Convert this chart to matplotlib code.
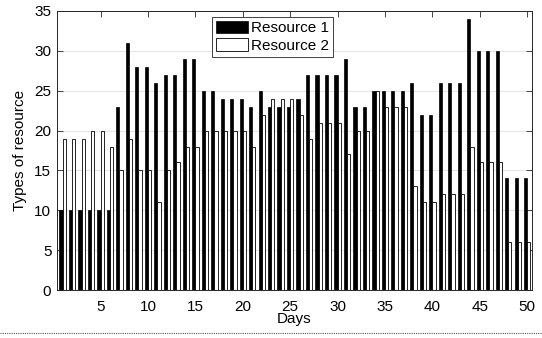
import matplotlib
matplotlib.use("Agg")
import matplotlib.pyplot as plt
from matplotlib.lines import Line2D
import numpy as np

plt.rcParams['font.family'] = ['Liberation Sans', 'DejaVu Sans']

days = list(range(1, 51))
resource1 = [10, 10, 10, 10, 10, 10, 23, 31, 28, 28,
             26, 27, 27, 29, 29, 25, 25, 24, 24, 24,
             23, 25, 23, 23, 23, 24, 27, 27, 27, 27,
             29, 23, 23, 25, 25, 25, 25, 26, 22, 22,
             26, 26, 26, 34, 30, 30, 30, 14, 14, 14]
resource2 = [19, 19, 19, 20, 20, 18, 15, 19, 15, 15,
             11, 15, 16, 18, 18, 20, 20, 20, 20, 20,
             18, 22, 24, 24, 24, 22, 19, 21, 21, 21,
             17, 20, 20, 25, 23, 23, 23, 13, 11, 11,
             12, 12, 12, 18, 16, 16, 16, 6, 6, 6]
series_labels = ['Resource 1', 'Resource 2']
xticks = [5, 10, 15, 20, 25, 30, 35, 40, 45, 50]
yticks = [0, 5, 10, 15, 20, 25, 30, 35]

fig = plt.figure(figsize=(5.42, 3.38), dpi=100)
ax = fig.add_axes([0.105, 0.142, 0.8765, 0.8255])

x = np.array(days)
w = 0.34
ax.bar(x - w / 2, resource1, width=w, color='black', edgecolor='black',
       linewidth=0.5, label=series_labels[0], zorder=3)
ax.bar(x + w / 2, resource2, width=w, color='white', edgecolor='black',
       linewidth=0.6, label=series_labels[1], zorder=3)

ax.set_xlim(0.4, 50.5)
ax.set_ylim(0, 35)
ax.set_xticks(xticks)
ax.set_yticks(yticks)
ax.yaxis.grid(True, color='#e6e6e6', linewidth=0.8, zorder=0)
ax.set_axisbelow(True)
ax.tick_params(direction='in', top=True, right=True, length=4,
               labelsize=11, width=0.6, color='#262626')
ax.tick_params(axis='x', pad=7)
ax.tick_params(axis='y', pad=4)
for s in ax.spines.values():
    s.set_linewidth(0.7)
    s.set_color('#262626')

ax.set_ylabel('Types of resource', fontsize=11, labelpad=5)
ax.set_xlabel('Days', fontsize=11, labelpad=-1)

leg = ax.legend(loc='upper left', bbox_to_anchor=(0.326, 0.978), fontsize=11,
                frameon=True, fancybox=False, framealpha=1, edgecolor='#404040',
                handlelength=2.1, handleheight=0.85, handletextpad=0.2,
                borderpad=0.25, labelspacing=0.2, borderaxespad=0)
leg.get_frame().set_linewidth(0.7)

fig.add_artist(Line2D([0.0, 1.0], [0.015, 0.015], transform=fig.transFigure,
                      color='#555555', linestyle=(0, (1, 1)), linewidth=0.8))

fig.savefig('out.png', dpi=100)
